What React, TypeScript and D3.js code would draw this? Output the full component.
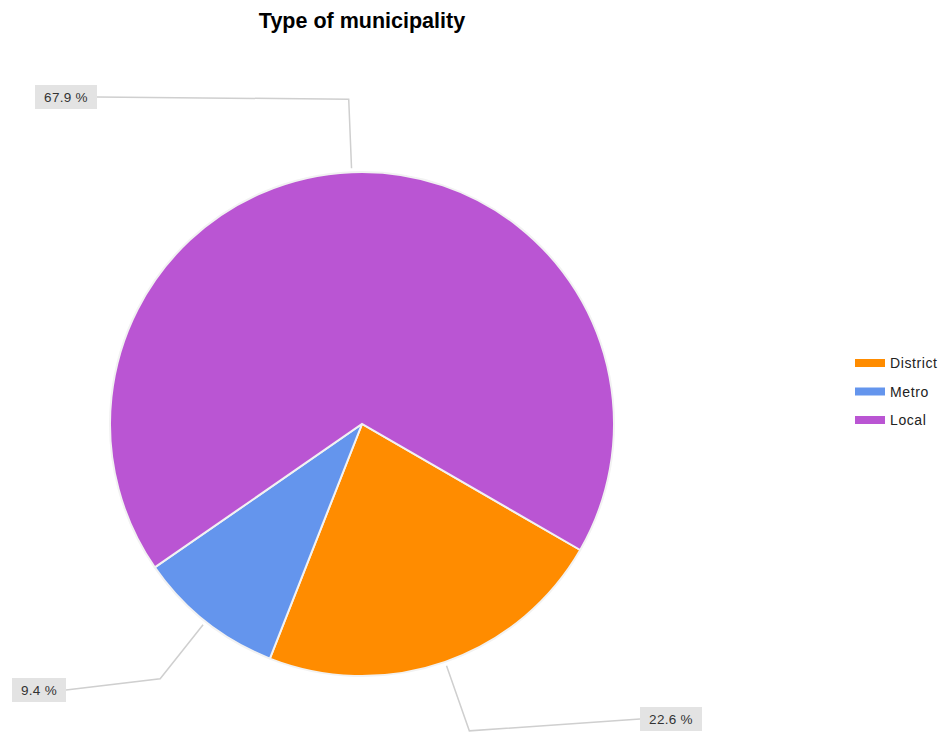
import React from "react";
import * as d3 from "d3";

const categories = ["District", "Metro", "Local"];
const values = [22.6, 9.4, 67.9];
const colors = ["#FF8C00", "#6495ED", "#BA55D3"];
const title = "Type of municipality";

const W = 946;
const H = 733;
const CX = 362;
const CY = 424;
const R = 252;
const START = (120 * Math.PI) / 180;

// label box anchor points (layout)
const LABEL_ANCHOR = [
  { x: 640, y: 719, side: "right" },
  { x: 66, y: 690, side: "left" },
  { x: 97, y: 97, side: "left" },
];

export default function App() {
  const data = categories.map((c, i) => ({ c, v: values[i], color: colors[i] }));
  const pie = d3
    .pie<any>()
    .value((d) => d.v)
    .sort(null)
    .startAngle(START)
    .endAngle(START + 2 * Math.PI);
  const arcs = pie(data);
  const arc = d3.arc<any>().innerRadius(0).outerRadius(R);
  const pt = (a: number, r: number) => [Math.sin(a) * r, -Math.cos(a) * r];

  return (
    <div style={{ position: "absolute", left: 0, top: 0 }}>
      <svg width={W} height={H} style={{ display: "block", background: "#fff" }}>
        <text
          x={CX}
          y={28}
          textAnchor="middle"
          fontFamily="'Liberation Sans', Arial, sans-serif"
          fontWeight="bold"
          fontSize={21.5}
          fill="#000"
        >
          {title}
        </text>
        <g transform={`translate(${CX},${CY})`}>
          {arcs.map((a, i) => (
            <path key={i} d={arc(a) as string} fill={a.data.color} stroke="#f2f2f2" strokeWidth={2} />
          ))}
          {arcs.map((a, i) => {
            const mid = (a.startAngle + a.endAngle) / 2;
            const p0 = pt(mid, R + 4);
            const p1 = pt(mid, R * 1.29);
            const an = LABEL_ANCHOR[i];
            const lx = an.x - CX;
            const ly = an.y - CY;
            return (
              <polyline
                key={"l" + i}
                points={`${p0[0]},${p0[1]} ${p1[0]},${p1[1]} ${lx},${ly}`}
                fill="none"
                stroke="#cfcfcf"
                strokeWidth={1.5}
              />
            );
          })}
        </g>
        {arcs.map((a, i) => {
          const an = LABEL_ANCHOR[i];
          const label = `${a.data.v.toFixed(1)} %`;
          const w = label.length * 8 + 14;
          const h = 24;
          const x0 = an.side === "right" ? an.x : an.x - w;
          return (
            <g key={"b" + i}>
              <rect x={x0} y={an.y - h / 2} width={w} height={h} fill="#e3e3e3" />
              <text
                x={x0 + w / 2}
                y={an.y + 5}
                textAnchor="middle"
                fontFamily="'Liberation Sans', Arial, sans-serif"
                fontSize={13.5}
                letterSpacing={0.3}
                fill="#333"
              >
                {label}
              </text>
            </g>
          );
        })}
        <g>
          {data.map((d, i) => (
            <g key={"lg" + i} transform={`translate(855, ${359 + i * 28.5})`}>
              <rect x={0} y={0} width={30} height={8} fill={d.color} />
              <text
                x={35}
                y={9}
                fontFamily="'Liberation Sans', Arial, sans-serif"
                fontSize={14}
                letterSpacing={0.6}
                fill="#222"
              >
                {d.c}
              </text>
            </g>
          ))}
        </g>
      </svg>
    </div>
  );
}
